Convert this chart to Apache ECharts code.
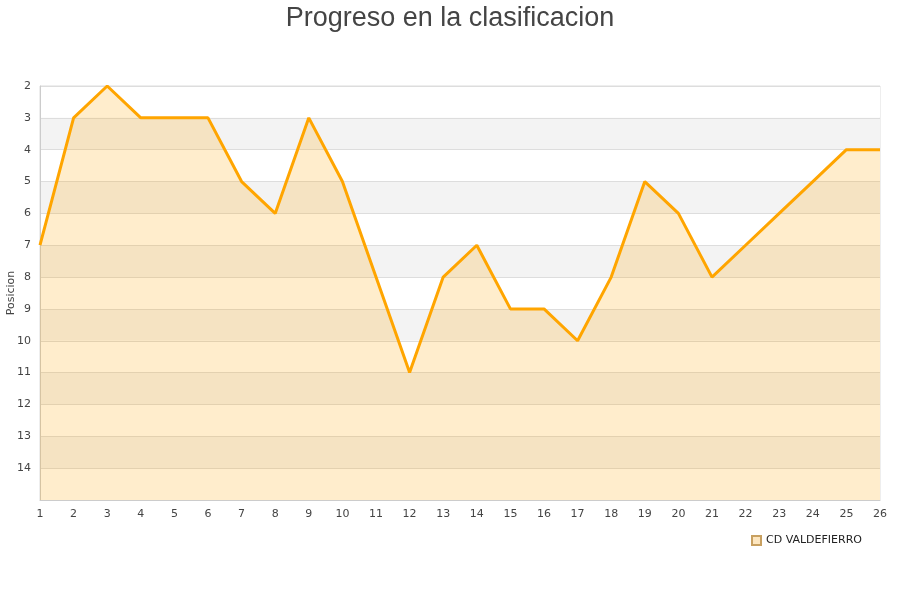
<!DOCTYPE html>
<html>
<head>
<meta charset="utf-8">
<script src="https://cdn.jsdelivr.net/npm/echarts@6/dist/echarts.min.js"></script>
<style>
html, body { margin: 0; padding: 0; background: #fff; }
#main { width: 900px; height: 600px; }
</style>
</head>
<body>
<div id="main"></div>
<script>
var jornadas = ['1','2','3','4','5','6','7','8','9','10','11','12','13','14','15','16','17','18','19','20','21','22','23','24','25','26'];
var posiciones = [7, 3, 2, 3, 3, 3, 5, 6, 3, 5, 8, 11, 8, 7, 9, 9, 10, 8, 5, 6, 8, 7, 6, 5, 4, 4];
var equipo = 'CD VALDEFIERRO';

var myChart = echarts.init(document.getElementById('main'));

var option = {
    backgroundColor: '#fff',
    animation: false,
    title: {
        text: 'Progreso en la clasificacion',
        left: 'center',
        top: 0,
        textStyle: {
            fontFamily: 'Liberation Sans',
            fontSize: 27,
            fontWeight: 'normal',
            color: '#444'
        }
    },
    legend: {
        data: [equipo],
        left: 746,
        top: 530,
        icon: 'rect',
        itemWidth: 9,
        itemHeight: 9,
        itemGap: 6,
        textStyle: { fontFamily: 'DejaVu Sans', fontSize: 11, color: '#222' }
    },
    grid: {
        left: 40,
        right: 20,
        top: 86,
        bottom: 100,
        containLabel: false,
        outerBoundsMode: 'none',
        show: true,
        borderColor: '#ddd',
        borderWidth: 1
    },
    xAxis: {
        type: 'category',
        boundaryGap: false,
        data: jornadas,
        axisLine: { lineStyle: { color: '#ccc' } },
        axisTick: { show: false },
        axisLabel: {
            interval: 0,
            color: '#444',
            fontFamily: 'DejaVu Sans',
            fontSize: 11,
            margin: 9
        }
    },
    yAxis: {
        type: 'value',
        inverse: true,
        min: 2,
        max: 15,
        interval: 1,
        name: 'Posicion',
        nameLocation: 'middle',
        nameGap: 23,
        nameMoveOverlap: false,
        nameRotate: 90,
        nameTextStyle: { fontFamily: 'DejaVu Sans', fontSize: 11, color: '#444' },
        axisLine: { show: true, lineStyle: { color: '#ccc' } },
        axisTick: { show: false },
        axisLabel: {
            color: '#444',
            fontFamily: 'DejaVu Sans',
            fontSize: 11,
            margin: 9,
            formatter: function (v) { return v === 15 ? '' : v; }
        },
        splitLine: { show: true, lineStyle: { color: '#ddd' } },
        splitArea: { show: true, areaStyle: { color: ['#ffffff', '#f3f3f3'] } }
    },
    series: [{
        name: equipo,
        type: 'line',
        data: posiciones,
        showSymbol: false,
        symbol: 'none',
        itemStyle: { color: '#fde6bf', borderColor: '#c8a060', borderWidth: 1 },
        lineStyle: { color: '#ffa500', width: 3 },
        areaStyle: { color: 'rgba(255,165,0,0.2)', opacity: 1, origin: 'end' }
    }]
};
myChart.setOption(option);
</script>
</body>
</html>
